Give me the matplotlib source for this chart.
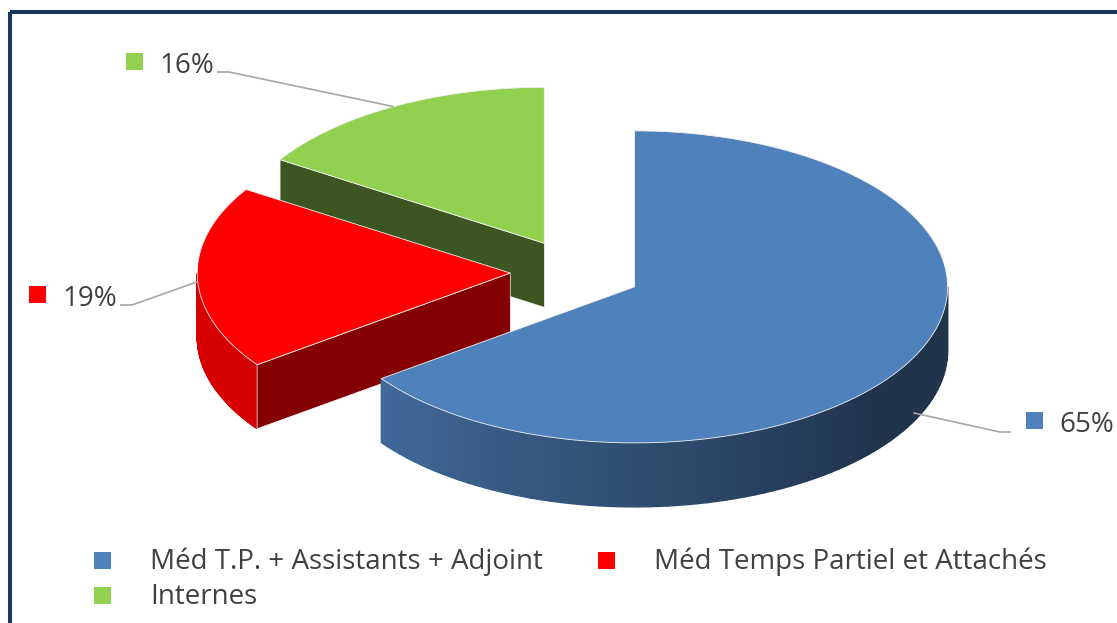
import numpy as np
import matplotlib
matplotlib.use("Agg")
import matplotlib.pyplot as plt
from matplotlib.patches import Polygon, Rectangle

# staff breakdown (percent of total)
categories = ["Méd T.P. + Assistants + Adjoint", "Méd Temps Partiel et Attachés", "Internes"]
shares = [65, 19, 16]
colors = ["#4F81BD", "#FF0000", "#92D050"]

# pie geometry in pixel units (y grows downwards)
CX, CY = 576.0, 272.0
RX, RY = 313.0, 156.0
DEPTH = 64.0
EXPLODE = 0.21

# top-left corner of the little square in front of each percentage
label_xy = [(1026, 412), (29, 286), (126, 53)]
# legend rows: square top-left
legend_xy = [(94, 552), (598, 552), (94, 587)]

plt.rcParams['font.family'] = ['Open Sans', 'DejaVu Sans']
TEXT = "#404040"


def shade(hexcol, f):
    rgb = np.array(matplotlib.colors.to_rgb(hexcol))
    return tuple(np.clip(rgb * f, 0, 1))


def rim(c, t):
    return c[0] + RX * np.cos(t), c[1] - RY * np.sin(t)


def wall_factor(deg):
    # lighter on the left, darker towards the right side
    return float(np.clip(0.82 - (deg - 216.0) * 0.00404, 0.40, 0.84))


fig = plt.figure(figsize=(11.17, 6.23), dpi=100)
ax = fig.add_axes([0, 0, 1, 1])
ax.set_xlim(0, 1117)
ax.set_ylim(623, 0)
ax.axis('off')

fracs = np.array(shares, dtype=float) / sum(shares)
bounds = 90.0 - 360.0 * np.concatenate([[0], np.cumsum(fracs)])

slices = []
for i in range(len(shares)):
    t0 = np.radians(bounds[i + 1])
    t1 = np.radians(bounds[i])
    mid = 0.5 * (t0 + t1)
    apex = (CX + EXPLODE * RX * np.cos(mid), CY - EXPLODE * RY * np.sin(mid))
    slices.append((i, t0, t1, mid, apex))

# paint back to front
for i, t0, t1, mid, apex in sorted(slices, key=lambda s: s[4][1]):
    col = colors[i]

    # outer wall, only the front half of the rim shows
    for k in range(-2, 2):
        a = max(t0, np.pi + 2 * np.pi * k)
        b = min(t1, 2 * np.pi + 2 * np.pi * k)
        if b <= a:
            continue
        ts = np.linspace(a, b, 80)
        for j in range(len(ts) - 1):
            x0, y0 = rim(apex, ts[j])
            x1, y1 = rim(apex, ts[j + 1])
            deg = np.degrees(0.5 * (ts[j] + ts[j + 1])) % 360
            fc = shade(col, wall_factor(deg))
            ax.add_patch(Polygon([(x0, y0), (x1, y1), (x1, y1 + DEPTH), (x0, y0 + DEPTH)],
                                 closed=True, facecolor=fc, edgecolor=fc, lw=1.0))

    # radial faces facing the viewer
    for t, nx, ny in ((t0, np.sin(t0), -np.cos(t0)), (t1, -np.sin(t1), np.cos(t1))):
        if ny < -1e-6:
            rx_, ry_ = rim(apex, t)
            fc = shade(col, 0.465 + 0.095 * nx)
            ax.add_patch(Polygon([apex, (rx_, ry_), (rx_, ry_ + DEPTH), (apex[0], apex[1] + DEPTH)],
                                 closed=True, facecolor=fc, edgecolor='#F2F2F2', lw=0.5))

    # top face
    ts = np.linspace(t0, t1, 200)
    pts = [apex] + [rim(apex, t) for t in ts]
    ax.add_patch(Polygon(pts, closed=True, facecolor=col, edgecolor='#F2F2F2', lw=0.6))

# percentage labels with leader lines
for i, t0, t1, mid, apex in slices:
    mx, my = label_xy[i]
    px, py = rim(apex, mid)
    py += DEPTH * float(np.clip(-1.9 * np.sin(mid), 0, 0.88))
    if mx > CX:
        line = [(px, py), (mx - 26, my + 20), (mx - 15, my + 20)]
    else:
        line = [(px, py), (mx + 103, my + 19), (mx + 91, my + 19)]
    xs, ys = zip(*line)
    ax.plot(xs, ys, color='#A6A6A6', lw=1.2, solid_capstyle='butt')
    ax.add_patch(Rectangle((mx, my), 17, 17, facecolor=colors[i], edgecolor='none'))
    ax.text(mx + 33, my + 20, f"{shares[i]}%", fontsize=20, color=TEXT,
            ha='left', va='baseline')

# legend
for i, (lx, ly) in enumerate(legend_xy):
    ax.add_patch(Rectangle((lx, ly), 17, 17, facecolor=colors[i], edgecolor='none'))
    ax.text(lx + 56, ly + 17, categories[i], fontsize=20, color=TEXT,
            ha='left', va='baseline')

# frame (only top and left edges fall inside the canvas)
ax.add_patch(Rectangle((10, 12), 1200, 700, facecolor='none', edgecolor='#17375E', lw=2.9))

fig.savefig("out.png", dpi=100)
